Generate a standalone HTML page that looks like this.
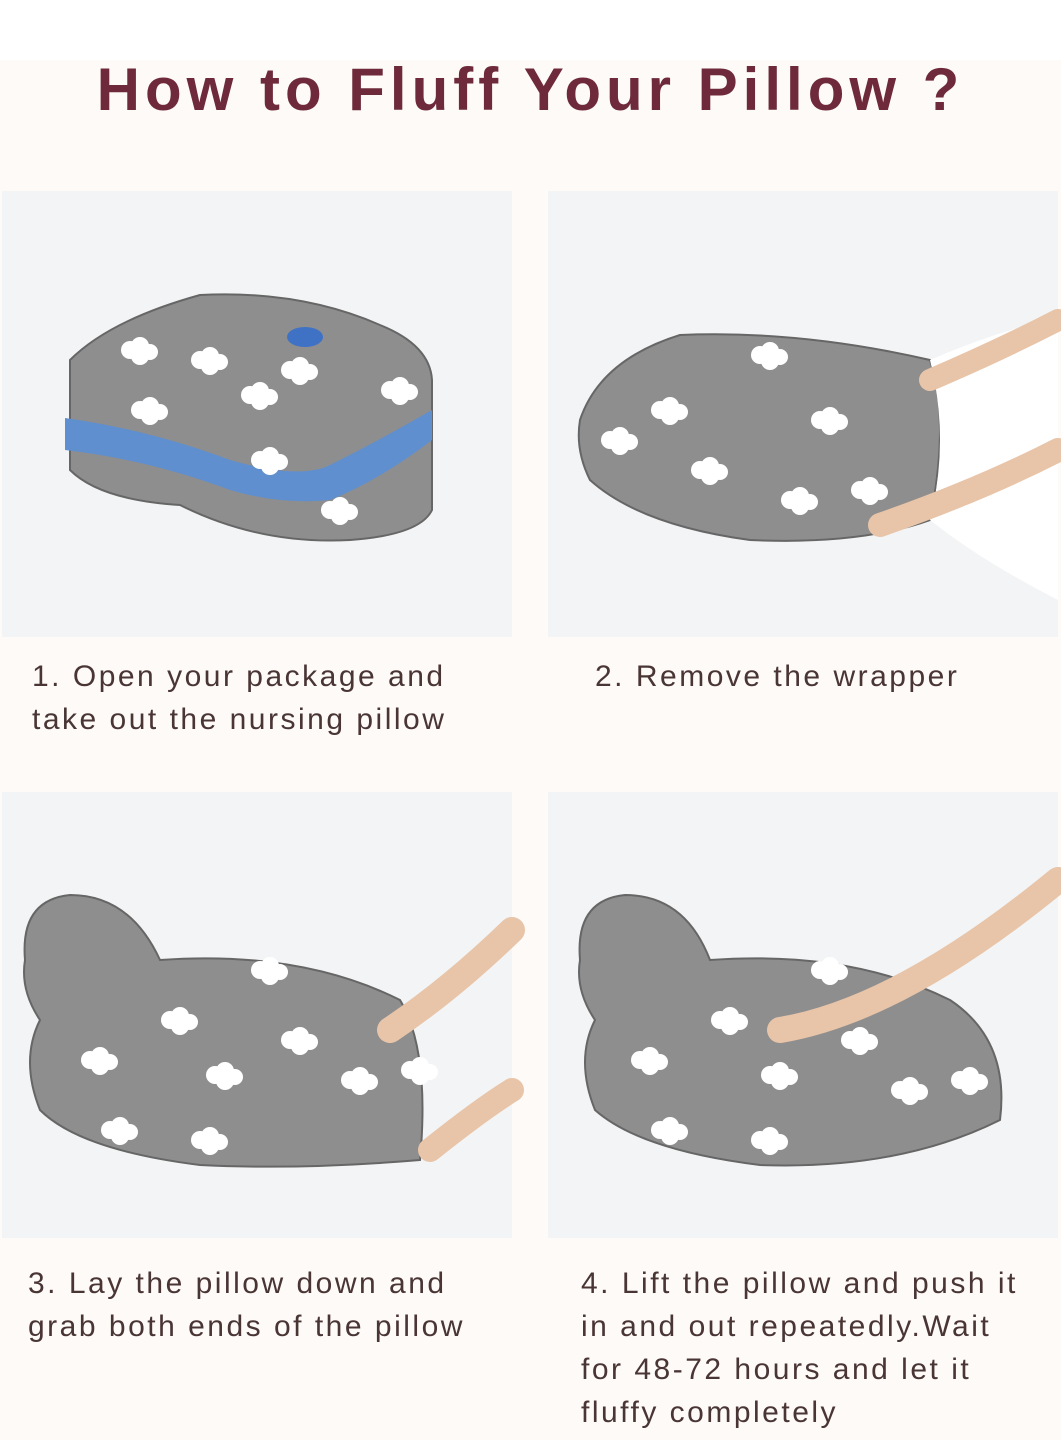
<!DOCTYPE html>
<html><head><meta charset="utf-8"><style>
body{margin:0;width:1061px;height:1440px;background:#fdfaf7;position:relative;overflow:hidden;font-family:"Liberation Sans",sans-serif}
.top{position:absolute;left:0;top:0;width:1061px;height:60px;background:#fff}
h1{position:absolute;left:0;width:1061px;top:55px;margin:0;text-align:center;font-size:60px;font-weight:bold;color:#6e2a3a;letter-spacing:5px}
.p{position:absolute;background:#f3f4f5}
.t{position:absolute;font-size:30px;line-height:43px;color:#4a3535;letter-spacing:2.5px;white-space:nowrap}
svg{position:absolute;left:0;top:0}
</style></head><body>
<div class="top"></div>
<h1>How to Fluff Your Pillow ?</h1>
<div class="p" style="left:2px;top:191px;width:510px;height:446px"></div>
<div class="p" style="left:548px;top:191px;width:510px;height:446px"></div>
<div class="p" style="left:2px;top:792px;width:510px;height:446px"></div>
<div class="p" style="left:548px;top:792px;width:510px;height:446px"></div>
<svg width="1061" height="1440">
<defs><g id="c"><circle cx="0" cy="0" r="9" fill="#fff"/><circle cx="10" cy="-4" r="9" fill="#fff"/><circle cx="20" cy="2" r="8" fill="#fff"/><circle cx="10" cy="6" r="9" fill="#fff"/></g></defs>
<path d="M70 360 Q110 320 200 295 Q300 290 380 325 Q430 345 432 380 L432 510 Q420 535 350 540 Q260 545 180 505 Q100 500 70 470 Z" fill="#8e8e8e" stroke="#666" stroke-width="2"/>
<path d="M65 418 Q150 430 230 460 Q300 480 330 465 Q380 440 432 410 L432 440 Q380 480 330 500 Q280 505 230 490 Q150 460 65 450 Z" fill="#5f8fcf"/>
<ellipse cx="305" cy="337" rx="18" ry="10" fill="#3f72c5"/>
<use href="#c" x="130" y="350"/><use href="#c" x="290" y="370"/><use href="#c" x="250" y="395"/><use href="#c" x="140" y="410"/><use href="#c" x="260" y="460"/><use href="#c" x="390" y="390"/><use href="#c" x="200" y="360"/><use href="#c" x="330" y="510"/>
<path d="M580 420 Q600 360 680 335 Q800 330 930 360 Q950 420 930 520 Q860 545 750 540 Q640 525 590 480 Q575 450 580 420 Z" fill="#8e8e8e" stroke="#666" stroke-width="2"/>
<path d="M930 360 Q1000 330 1058 318 L1058 600 Q980 560 930 520 Q950 440 930 360 Z" fill="#fff"/>
<use href="#c" x="660" y="410"/><use href="#c" x="760" y="355"/><use href="#c" x="820" y="420"/><use href="#c" x="700" y="470"/><use href="#c" x="860" y="490"/><use href="#c" x="610" y="440"/><use href="#c" x="790" y="500"/>
<path d="M930 380 Q1000 350 1058 320" stroke="#e8c4a8" stroke-width="22" fill="none" stroke-linecap="round"/>
<path d="M880 525 Q980 490 1058 450" stroke="#e8c4a8" stroke-width="24" fill="none" stroke-linecap="round"/>
<path d="M25 960 Q20 900 70 895 Q130 895 160 960 Q300 950 400 1000 Q430 1050 420 1160 Q300 1170 200 1165 Q80 1150 40 1110 Q20 1060 40 1020 Q20 990 25 960 Z" fill="#8e8e8e" stroke="#666" stroke-width="2"/>
<use href="#c" x="170" y="1020"/><use href="#c" x="90" y="1060"/><use href="#c" x="215" y="1075"/><use href="#c" x="290" y="1040"/><use href="#c" x="350" y="1080"/><use href="#c" x="200" y="1140"/><use href="#c" x="110" y="1130"/><use href="#c" x="410" y="1070"/><use href="#c" x="260" y="970"/>
<path d="M390 1030 Q450 990 512 930" stroke="#e8c4a8" stroke-width="26" fill="none" stroke-linecap="round"/>
<path d="M430 1150 Q480 1110 512 1090" stroke="#e8c4a8" stroke-width="24" fill="none" stroke-linecap="round"/>
<path d="M580 960 Q575 900 625 895 Q685 895 710 960 Q850 950 950 1000 Q1010 1040 1000 1120 Q900 1170 760 1165 Q640 1150 595 1110 Q575 1060 595 1020 Q575 990 580 960 Z" fill="#8e8e8e" stroke="#666" stroke-width="2"/>
<use href="#c" x="720" y="1020"/><use href="#c" x="640" y="1060"/><use href="#c" x="770" y="1075"/><use href="#c" x="850" y="1040"/><use href="#c" x="900" y="1090"/><use href="#c" x="760" y="1140"/><use href="#c" x="660" y="1130"/><use href="#c" x="960" y="1080"/><use href="#c" x="820" y="970"/>
<path d="M780 1030 Q900 1010 1058 880" stroke="#e8c4a8" stroke-width="26" fill="none" stroke-linecap="round"/>
</svg>
<div class="t" style="left:32px;top:655px">1. Open your package and<br>take out the nursing pillow</div>
<div class="t" style="left:595px;top:655px">2. Remove the wrapper</div>
<div class="t" style="left:28px;top:1262px">3. Lay the pillow down and<br>grab both ends of the pillow</div>
<div class="t" style="left:581px;top:1262px">4. Lift the pillow and push it<br>in and out repeatedly.Wait<br>for 48-72 hours and let it<br>fluffy completely</div>
</body></html>
